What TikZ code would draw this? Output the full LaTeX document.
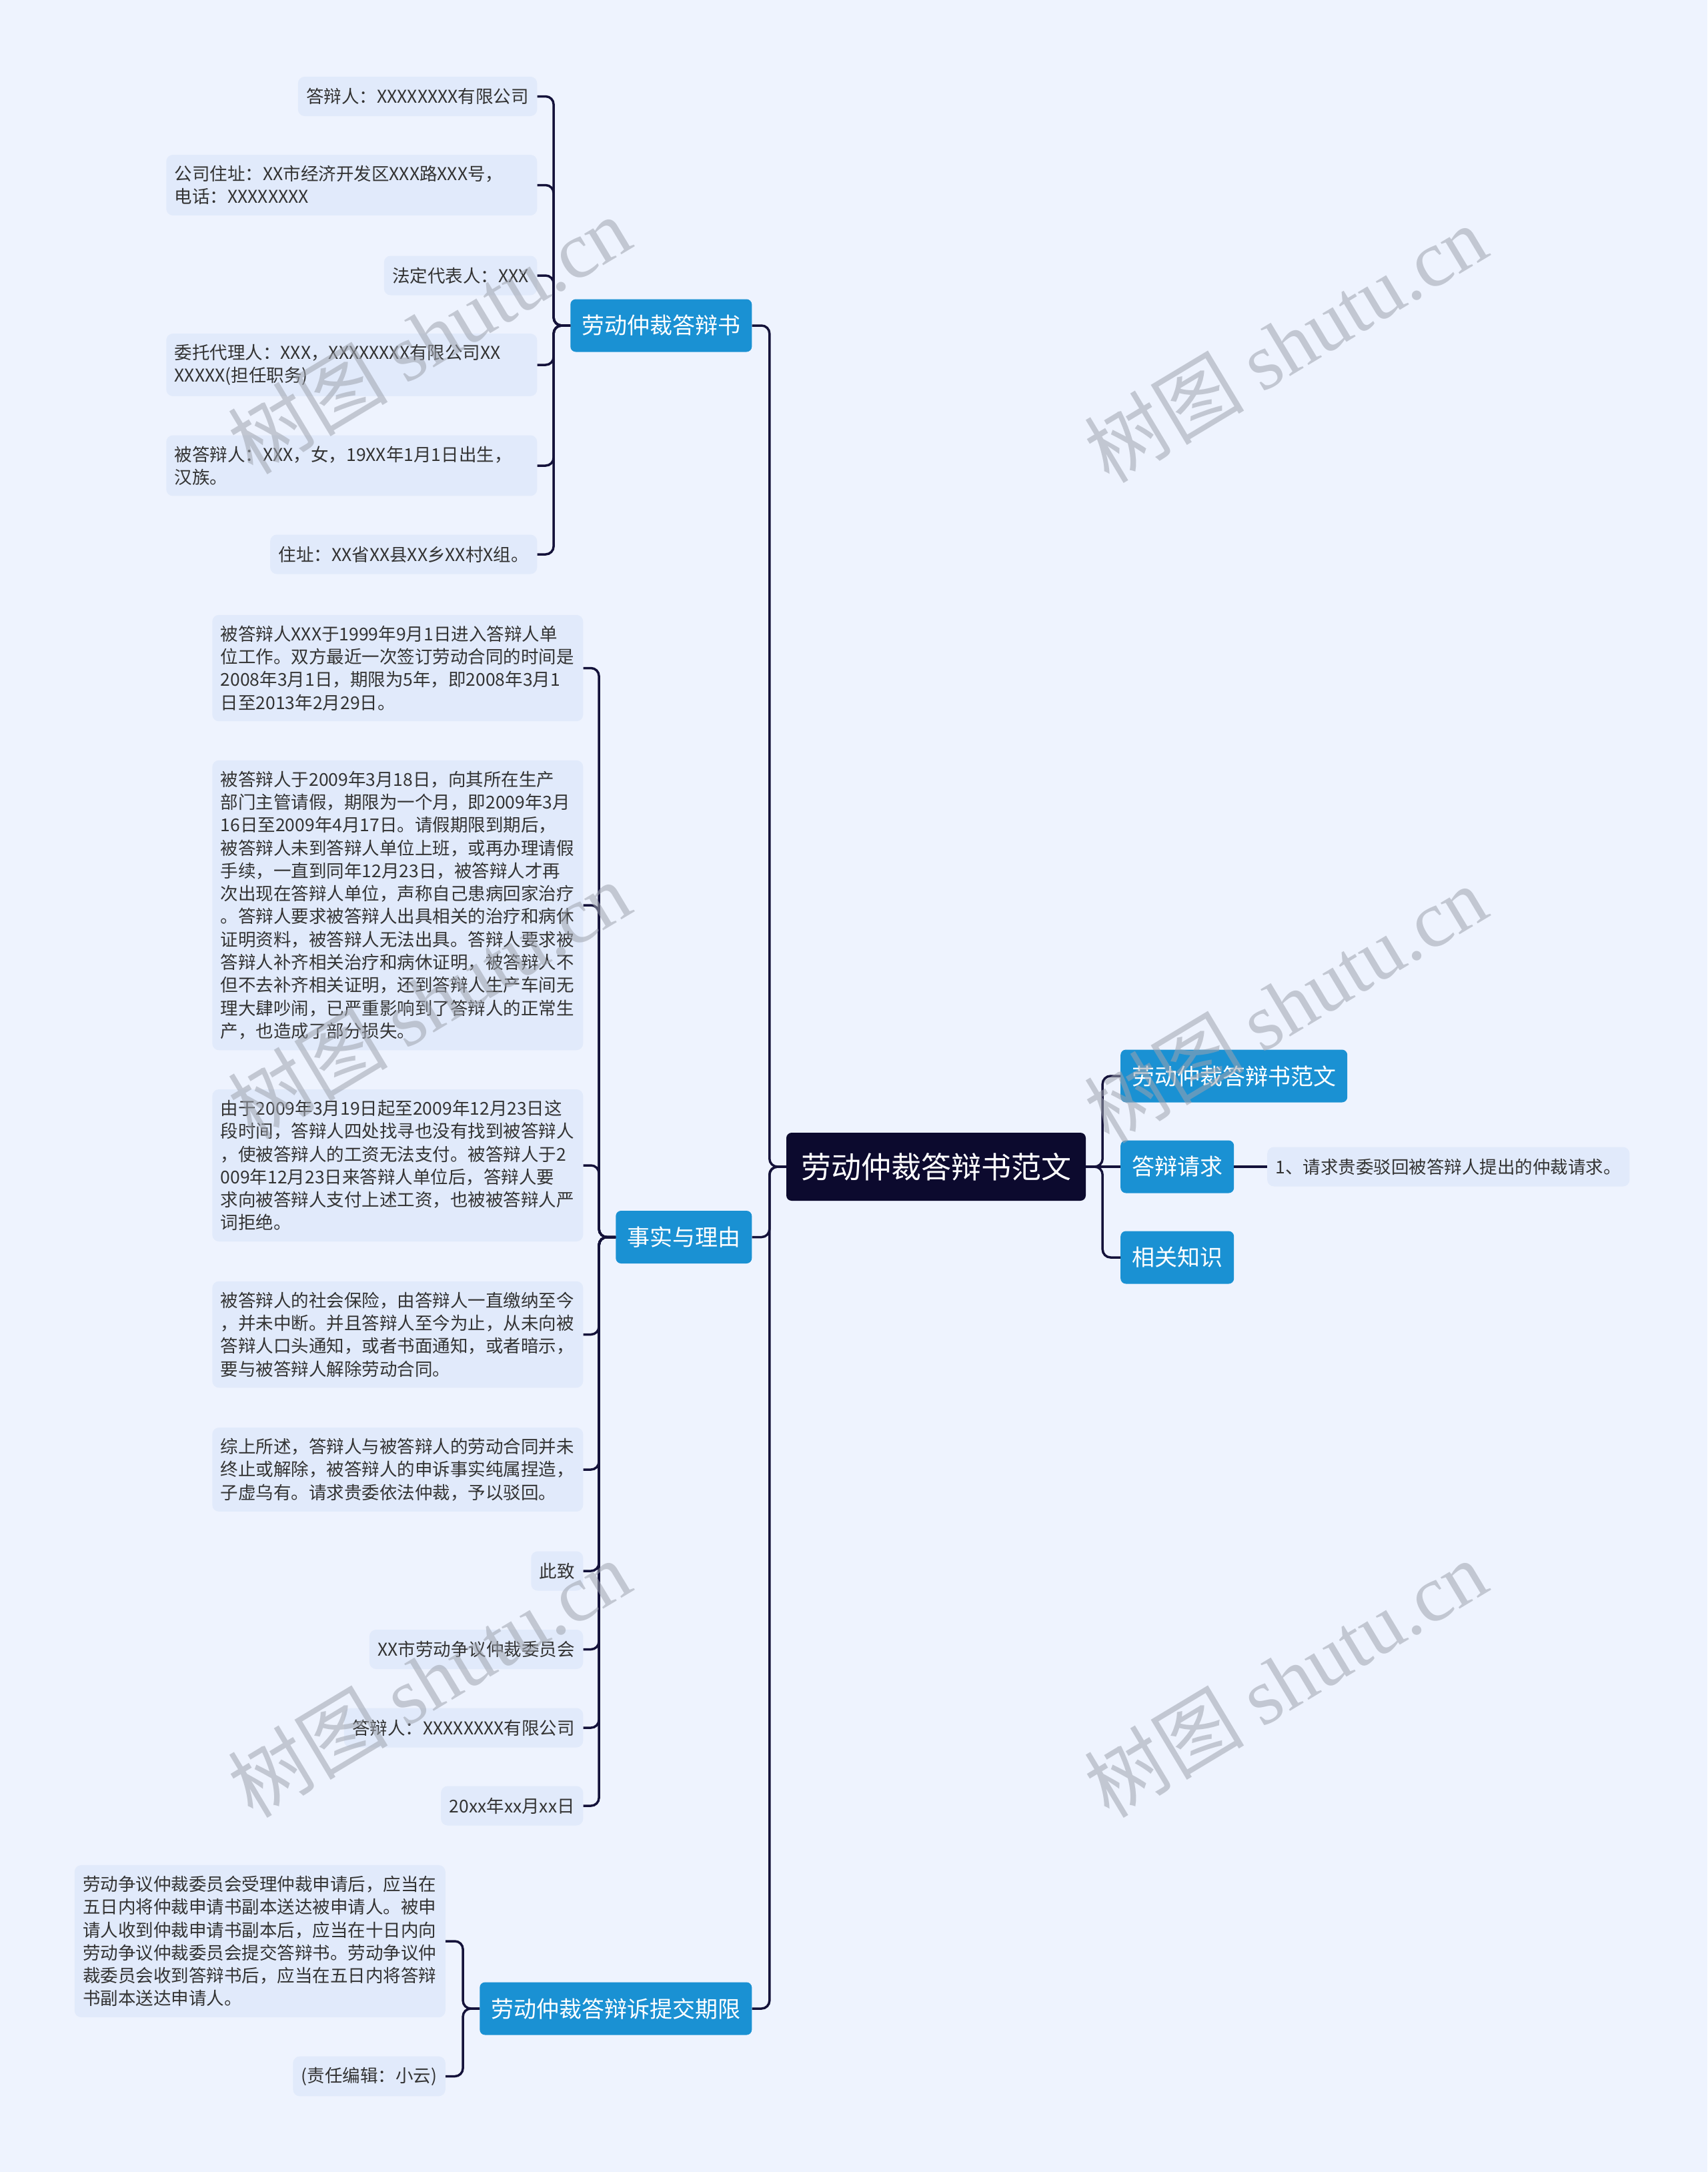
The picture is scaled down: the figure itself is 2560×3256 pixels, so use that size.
\documentclass[tikz,border=0pt]{standalone}
\usepackage{fontspec}
\setmainfont{Noto Sans CJK SC}
\newfontfamily\wmserif{Liberation Serif}
\usepackage{tikz}

\definecolor{bgblue}{HTML}{EEF3FE}
\definecolor{leaffill}{HTML}{E1EAFB}
\definecolor{topicblue}{HTML}{1A91D3}
\definecolor{rootnavy}{HTML}{0C0A2E}
\definecolor{linknavy}{HTML}{14123A}
\definecolor{leaftext}{HTML}{333333}
\definecolor{wmgray}{HTML}{9EA3AE}

\tikzset{
  rootbox/.style={fill=rootnavy, text=white, rounded corners=8pt, inner xsep=22pt,
    minimum height=102pt, font=\fontsize{45}{54}\selectfont},
  topic/.style={fill=topicblue, text=white, rounded corners=8pt, inner xsep=17pt,
    minimum height=79pt, font=\fontsize{34}{40}\selectfont},
  leaf/.style={fill=leaffill, text=leaftext, rounded corners=10pt, inner xsep=12.5pt,
    inner ysep=16pt, minimum height=59pt, align=left, font=\fontsize{26.5}{34.3}\selectfont},
  longleaf/.style={leaf, text width=531pt},
  link/.style={draw=linknavy, line width=3.5pt, rounded corners=12pt},
  watermark/.style={text=wmgray, text opacity=0.55, rotate=31, font=\fontsize{120}{120}\selectfont}
}

\begin{document}
\begin{tikzpicture}[x=1pt,y=-1pt]
  \fill[bgblue] (0,0) rectangle (2560,3256);
  \useasboundingbox (0,0) rectangle (2560,3256);

  % centre and right side
  \node[rootbox] (root) at (1403.5,1749) {劳动仲裁答辩书范文};
  \node[topic, anchor=west] (fanwen) at (1680,1613) {劳动仲裁答辩书范文};
  \node[topic, anchor=west] (qingqiu) at (1680,1749) {答辩请求};
  \node[topic, anchor=west] (zhishi) at (1680,1885) {相关知识};
  \node[leaf, anchor=west] (qingqiu1) at (1900,1749) {1、请求贵委驳回被答辩人提出的仲裁请求。};

  % left side topics
  \node[topic, anchor=east] (dabianshu) at (1127.5,488) {劳动仲裁答辩书};
  \node[topic, anchor=east] (shishi) at (1127.5,1854.5) {事实与理由};
  \node[topic, anchor=east] (qixian) at (1127.5,3011) {劳动仲裁答辩诉提交期限};

  % leaves of the defence statement
  \node[leaf, anchor=east] (a1) at (805.5,144.5) {答辩人：XXXXXXXX有限公司};
  \node[longleaf, anchor=east] (a2) at (805.5,277.5) {公司住址：XX市经济开发区XXX路XXX号，\\电话：XXXXXXXX};
  \node[leaf, anchor=east] (a3) at (805.5,413) {法定代表人：XXX};
  \node[longleaf, anchor=east] (a4) at (805.5,547) {委托代理人：XXX，XXXXXXXX有限公司XX\\XXXXX(担任职务)};
  \node[longleaf, anchor=east] (a5) at (805.5,698) {被答辩人：XXX，女，19XX年1月1日出生，\\汉族。};
  \node[leaf, anchor=east] (a6) at (805.5,831) {住址：XX省XX县XX乡XX村X组。};

  % leaves of facts and reasons
  \node[longleaf, anchor=east] (b1) at (874.5,1001.5) {被答辩人XXX于1999年9月1日进入答辩人单\\位工作。双方最近一次签订劳动合同的时间是\\2008年3月1日，期限为5年，即2008年3月1\\日至2013年2月29日。};
  \node[longleaf, anchor=east] (b2) at (874.5,1357) {被答辩人于2009年3月18日，向其所在生产\\部门主管请假，期限为一个月，即2009年3月\\16日至2009年4月17日。请假期限到期后，\\被答辩人未到答辩人单位上班，或再办理请假\\手续，一直到同年12月23日，被答辩人才再\\次出现在答辩人单位，声称自己患病回家治疗\\。答辩人要求被答辩人出具相关的治疗和病休\\证明资料，被答辩人无法出具。答辩人要求被\\答辩人补齐相关治疗和病休证明，被答辩人不\\但不去补齐相关证明，还到答辩人生产车间无\\理大肆吵闹，已严重影响到了答辩人的正常生\\产，也造成了部分损失。};
  \node[longleaf, anchor=east] (b3) at (874.5,1747) {由于2009年3月19日起至2009年12月23日这\\段时间，答辩人四处找寻也没有找到被答辩人\\，使被答辩人的工资无法支付。被答辩人于2\\009年12月23日来答辩人单位后，答辩人要\\求向被答辩人支付上述工资，也被被答辩人严\\词拒绝。};
  \node[longleaf, anchor=east] (b4) at (874.5,2000.5) {被答辩人的社会保险，由答辩人一直缴纳至今\\，并未中断。并且答辩人至今为止，从未向被\\答辩人口头通知，或者书面通知，或者暗示，\\要与被答辩人解除劳动合同。};
  \node[longleaf, anchor=east] (b5) at (874.5,2203) {综上所述，答辩人与被答辩人的劳动合同并未\\终止或解除，被答辩人的申诉事实纯属捏造，\\子虚乌有。请求贵委依法仲裁，予以驳回。};
  \node[leaf, anchor=east] (b6) at (874.5,2355) {此致};
  \node[leaf, anchor=east] (b7) at (874.5,2472.5) {XX市劳动争议仲裁委员会};
  \node[leaf, anchor=east] (b8) at (874.5,2590) {答辩人：XXXXXXXX有限公司};
  \node[leaf, anchor=east] (b9) at (874.5,2707) {20xx年xx月xx日};

  % leaves of the time limit
  \node[longleaf, anchor=east] (c1) at (668,2910) {劳动争议仲裁委员会受理仲裁申请后，应当在\\五日内将仲裁申请书副本送达被申请人。被申\\请人收到仲裁申请书副本后，应当在十日内向\\劳动争议仲裁委员会提交答辩书。劳动争议仲\\裁委员会收到答辩书后，应当在五日内将答辩\\书副本送达申请人。};
  \node[leaf, anchor=east] (c2) at (668,3112.5) {(责任编辑：小云)};

  % connectors
  \draw[link] (root.east) -- ++(25,0) |- (fanwen.west);
  \draw[link] (root.east) -- (qingqiu.west);
  \draw[link] (root.east) -- ++(25,0) |- (zhishi.west);
  \draw[link] (qingqiu.east) -- (qingqiu1.west);
  \draw[link] (root.west) -- ++(-25,0) |- (dabianshu.east);
  \draw[link] (root.west) -- ++(-25,0) |- (shishi.east);
  \draw[link] (root.west) -- ++(-25,0) |- (qixian.east);

  \draw[link] (dabianshu.west) -- ++(-25,0) |- (a1.east);
  \draw[link] (dabianshu.west) -- ++(-25,0) |- (a2.east);
  \draw[link] (dabianshu.west) -- ++(-25,0) |- (a3.east);
  \draw[link] (dabianshu.west) -- ++(-25,0) |- (a4.east);
  \draw[link] (dabianshu.west) -- ++(-25,0) |- (a5.east);
  \draw[link] (dabianshu.west) -- ++(-25,0) |- (a6.east);

  \draw[link] (shishi.west) -- ++(-25,0) |- (b1.east);
  \draw[link] (shishi.west) -- ++(-25,0) |- (b2.east);
  \draw[link] (shishi.west) -- ++(-25,0) |- (b3.east);
  \draw[link] (shishi.west) -- ++(-25,0) |- (b4.east);
  \draw[link] (shishi.west) -- ++(-25,0) |- (b5.east);
  \draw[link] (shishi.west) -- ++(-25,0) |- (b6.east);
  \draw[link] (shishi.west) -- ++(-25,0) |- (b7.east);
  \draw[link] (shishi.west) -- ++(-25,0) |- (b8.east);
  \draw[link] (shishi.west) -- ++(-25,0) |- (b9.east);

  \draw[link] (qixian.west) -- ++(-25,0) |- (c1.east);
  \draw[link] (qixian.west) -- ++(-25,0) |- (c2.east);

  % watermarks
  \node[watermark] (wm1) at (643.5,502) {树图 {\wmserif shutu.cn}};
  \node[watermark] (wm2) at (1927,515) {树图 {\wmserif shutu.cn}};
  \node[watermark] (wm3) at (643.5,1499) {树图 {\wmserif shutu.cn}};
  \node[watermark] (wm4) at (1927,1505) {树图 {\wmserif shutu.cn}};
  \node[watermark] (wm5) at (643.5,2516) {树图 {\wmserif shutu.cn}};
  \node[watermark] (wm6) at (1927,2516) {树图 {\wmserif shutu.cn}};
\end{tikzpicture}
\end{document}
